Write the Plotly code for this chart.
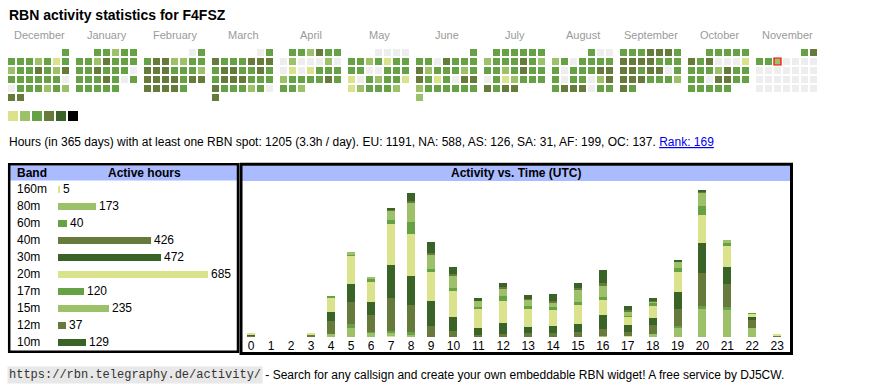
import datetime
import calendar
import plotly.graph_objects as go

W, H = 870, 390
SANS = "Liberation Sans, Arial, sans-serif"
MONO = "Liberation Mono, Courier New, monospace"

# ---------------- data ----------------
title_text = "RBN activity statistics for F4FSZ"
month_names = ["December", "January", "February", "March", "April", "May",
               "June", "July", "August", "September", "October", "November"]
month_ym = [(2024, 12), (2025, 1), (2025, 2), (2025, 3), (2025, 4), (2025, 5),
            (2025, 6), (2025, 7), (2025, 8), (2025, 9), (2025, 10), (2025, 11)]
today = datetime.date(2025, 11, 5)

# daily activity level (0 = none, 1..6 = legend levels)
lv_dec = [3, 3, 3, 3, 2, 3, 1, 3, 2, 3, 3, 4, 3, 2, 4, 3, 3, 3, 3, 3, 3, 0, 0, 3, 3, 3, 2, 3, 2, 4, 4]
lv_jan = [3, 3, 2, 3, 3, 3, 3, 2, 4, 3, 3, 3, 3, 3, 4, 3, 3, 3, 0, 3, 3, 3, 4, 3, 0, 3, 3, 3, 3, 3, 3]
lv_feb = [0, 3, 3, 4, 4, 2, 2, 3, 3, 4, 4, 4, 3, 3, 3, 2, 4, 4, 4, 4, 3, 4, 4, 4, 4, 4, 4, 3]
lv_mar = [0, 3, 4, 3, 3, 3, 4, 4, 4, 3, 4, 4, 3, 3, 4, 3, 3, 4, 4, 4, 3, 3, 3, 4, 3, 3, 3, 2, 3, 0, 4]
lv_apr = [3, 3, 2, 4, 3, 3, 0, 2, 0, 0, 0, 2, 0, 0, 1, 0, 1, 3, 3, 3, 2, 3, 3, 3, 3, 4, 3, 3, 3, 2]
lv_may = [0, 0, 0, 0, 3, 3, 2, 3, 1, 3, 3, 3, 3, 0, 0, 3, 3, 3, 1, 0, 3, 2, 3, 3, 1, 1, 2, 3, 3, 3, 2]
lv_jun = [3, 3, 3, 0, 4, 3, 3, 3, 4, 2, 3, 3, 3, 2, 3, 4, 3, 1, 3, 0, 4, 4, 2, 3, 3, 3, 3, 3, 3, 2]
lv_jul = [3, 3, 3, 3, 3, 3, 2, 3, 3, 3, 4, 3, 2, 3, 3, 2, 3, 4, 3, 3, 0, 3, 1, 2, 3, 3, 3, 4, 3, 4, 4]
lv_aug = [3, 0, 0, 2, 3, 0, 3, 3, 3, 3, 3, 0, 3, 3, 3, 4, 4, 3, 0, 3, 3, 0, 2, 4, 3, 4, 4, 4, 0, 3, 3]
lv_sep = [3, 3, 3, 4, 4, 4, 3, 4, 4, 4, 4, 3, 3, 3, 4, 4, 3, 4, 4, 0, 3, 4, 4, 4, 3, 3, 3, 2, 4, 3]
lv_oct = [3, 3, 3, 3, 3, 4, 3, 4, 0, 0, 0, 1, 3, 3, 3, 2, 4, 3, 3, 3, 3, 0, 4, 4, 3, 3, 3, 3, 3, 3, 3]
lv_nov = [3, 4, 3, 3, 2, 0, 0, 0, 0, 0, 0, 0, 0, 0, 0, 0, 0, 0, 0, 0, 0, 0, 0, 0, 0, 0, 0, 0, 0, 0]
month_levels = [lv_dec, lv_jan, lv_feb, lv_mar, lv_apr, lv_may,
                lv_jun, lv_jul, lv_aug, lv_sep, lv_oct, lv_nov]

level_colors = ["#eeeeee", "#dae28b", "#9dc168", "#66a146", "#667a3b", "#3a6427", "#000000"]

stats_text = ("Hours (in 365 days) with at least one RBN spot: 1205 (3.3h / day). "
              "EU: 1191, NA: 588, AS: 126, SA: 31, AF: 199, OC: 137. ")
rank_text = "Rank: 169"

bands = ["160m", "80m", "60m", "40m", "30m", "20m", "17m", "15m", "12m", "10m"]
band_hours = [5, 173, 40, 426, 472, 685, 120, 235, 37, 129]
band_level = [1, 2, 3, 4, 5, 1, 3, 2, 4, 5]

hour_labels = [str(h) for h in range(24)]
# active hours per band for each UTC hour 0..23
h_160m = [0, 0, 0, 0, 0, 0, 0, 2, 0, 0, 0, 0, 0, 0, 0, 0, 0, 2, 0, 0, 0, 0, 0, 0]
h_80m = [0, 0, 0, 0, 6, 16, 7, 5, 5, 0, 0, 0, 0, 0, 0, 0, 2, 0, 5, 17, 48, 47, 16, 0]
h_60m = [0, 0, 0, 0, 0, 6, 2, 3, 3, 0, 0, 0, 0, 0, 0, 0, 0, 0, 0, 2, 5, 5, 0, 0]
h_40m = [3, 0, 0, 5, 21, 38, 29, 57, 48, 19, 10, 3, 5, 7, 7, 9, 12, 7, 16, 29, 57, 40, 14, 2]
h_30m = [1, 0, 0, 0, 16, 32, 22, 57, 50, 43, 25, 12, 20, 10, 12, 14, 24, 12, 12, 29, 52, 29, 5, 0]
h_20m = [2, 0, 0, 1, 26, 48, 35, 71, 72, 51, 45, 35, 38, 31, 29, 33, 26, 14, 21, 36, 48, 36, 5, 2]
h_17m = [0, 0, 0, 0, 2, 2, 5, 7, 21, 5, 5, 2, 7, 6, 3, 5, 5, 2, 5, 7, 16, 5, 1, 0]
h_15m = [0, 0, 0, 0, 0, 4, 4, 16, 33, 25, 21, 10, 14, 10, 9, 21, 19, 7, 2, 10, 24, 5, 0, 0]
h_12m = [0, 0, 0, 0, 0, 0, 0, 2, 3, 2, 3, 0, 2, 2, 2, 2, 5, 3, 2, 0, 2, 0, 0, 0]
h_10m = [0, 0, 0, 0, 0, 0, 0, 2, 14, 19, 12, 5, 7, 7, 12, 10, 22, 6, 5, 2, 2, 0, 0, 0]
hour_series = [h_160m, h_80m, h_60m, h_40m, h_30m, h_20m, h_17m, h_15m, h_12m, h_10m]

footer_url = "https://rbn.telegraphy.de/activity/"
footer_text = " - Search for any callsign and create your own embeddable RBN widget! A free service by DJ5CW."

# ---------------- layout constants ----------------
CAL_X0, CAL_Y0, CELL_PITCH, MONTH_PITCH, CELL = 8, 49, 9, 68, 7
HEADER_BLUE = "#aabbff"

fig = go.Figure()

# calendar cells
cx, cy, cc, lw, lc = [], [], [], [], []
for m, ((yr, mo), levels) in enumerate(zip(month_ym, month_levels)):
    first_wd = calendar.monthrange(yr, mo)[0]
    for d, lev in enumerate(levels):
        idx = first_wd + d
        col, row = idx % 7, idx // 7
        cx.append(CAL_X0 + MONTH_PITCH * m + CELL / 2 + CELL_PITCH * col)
        cy.append(CAL_Y0 + CELL / 2 + CELL_PITCH * row)
        cc.append(level_colors[lev])
        is_today = datetime.date(yr, mo, d + 1) == today
        lw.append(1.2 if is_today else 0)
        lc.append("#ff0000" if is_today else "rgba(0,0,0,0)")
fig.add_trace(go.Scatter(
    x=cx, y=cy, mode="markers", xaxis="x", yaxis="y", hoverinfo="skip",
    marker=dict(symbol="square", size=CELL, color=cc, line=dict(width=lw, color=lc))))

# legend squares
fig.add_trace(go.Scatter(
    x=[13 + 12 * i for i in range(6)], y=[116] * 6, mode="markers",
    xaxis="x", yaxis="y", hoverinfo="skip",
    marker=dict(symbol="square", size=10, color=level_colors[1:], line=dict(width=0))))

# band bars
fig.add_trace(go.Bar(
    y=bands, x=band_hours, orientation="h", xaxis="x2", yaxis="y2",
    marker=dict(color=[level_colors[l] for l in band_level], line=dict(width=0)),
    width=0.43, text=band_hours, textposition="outside", constraintext="none",
    cliponaxis=False, textfont=dict(family=SANS, size=12, color="#000000"),
    hoverinfo="skip"))

# activity vs time bars (cell widths follow label widths)
widths = [15.1 + 4.9 * len(s) for s in hour_labels]
centers = []
acc = 0.0
for w in widths:
    centers.append(acc + w / 2)
    acc += w
for b, series, lev in zip(bands, hour_series, band_level):
    fig.add_trace(go.Bar(
        x=centers, y=series, width=8, xaxis="x3", yaxis="y3", name=b,
        marker=dict(color=level_colors[lev], line=dict(width=0)), hoverinfo="skip"))

# ---------------- annotations ----------------
ann = []
ann.append(dict(x=7, y=15, xref="x", yref="y", text="<b>" + title_text + "</b>",
                showarrow=False, xanchor="left", yanchor="middle",
                font=dict(family=SANS, size=14, color="#000000")))
for m, name in enumerate(month_names):
    ann.append(dict(x=CAL_X0 + MONTH_PITCH * m + 31, y=35, xref="x", yref="y", text=name,
                    showarrow=False, xanchor="center", yanchor="middle",
                    font=dict(family=SANS, size=11, color="#9a9a9a")))
ann.append(dict(x=7, y=142, xref="x", yref="y",
                text=stats_text + "<span style='color:#0000ee'><u>" + rank_text + "</u></span>",
                showarrow=False, xanchor="left", yanchor="middle",
                font=dict(family=SANS, size=12, color="#000000")))
ann.append(dict(x=15, y=173, xref="x", yref="y", text="<b>Band</b>", showarrow=False,
                xanchor="left", yanchor="middle", font=dict(family=SANS, size=12, color="#000000")))
ann.append(dict(x=144, y=173, xref="x", yref="y", text="<b>Active hours</b>", showarrow=False,
                xanchor="center", yanchor="middle", font=dict(family=SANS, size=12, color="#000000")))
for b in bands:
    ann.append(dict(x=15, y=b, xref="x", yref="y2", text=b, showarrow=False,
                    xanchor="left", yanchor="middle", font=dict(family=SANS, size=12, color="#000000")))
ann.append(dict(x=516, y=173, xref="x", yref="y", text="<b>Activity vs. Time (UTC)</b>",
                showarrow=False, xanchor="center", yanchor="middle",
                font=dict(family=SANS, size=12, color="#000000")))
ann.append(dict(x=7, y=374.5, xref="x", yref="y", text=footer_url, showarrow=False,
                xanchor="left", yanchor="middle", bgcolor="#e8e8e8", borderpad=1,
                font=dict(family=MONO, size=12, color="#333333")))
ann.append(dict(x=260, y=374.5, xref="x", yref="y", text=footer_text, showarrow=False,
                xanchor="left", yanchor="middle",
                font=dict(family=SANS, size=12, color="#000000")))

# ---------------- shapes ----------------
shapes = [
    dict(type="rect", xref="x", yref="y", x0=10, x1=237, y0=165.5, y1=180.5,
         fillcolor=HEADER_BLUE, line=dict(width=0), layer="below"),
    dict(type="rect", xref="x", yref="y", x0=242, x1=790.5, y0=165.5, y1=181,
         fillcolor=HEADER_BLUE, line=dict(width=0), layer="below"),
    dict(type="rect", xref="x", yref="y", x0=9.2, x1=238, y0=164.2, y1=351.8,
         line=dict(width=2.5, color="#000000"), layer="above"),
    dict(type="rect", xref="x", yref="y", x0=241, x1=791.5, y0=164.2, y1=353.5,
         line=dict(width=3, color="#000000"), layer="above"),
]

fig.update_layout(
    width=W, height=H, margin=dict(l=0, r=0, t=0, b=0),
    paper_bgcolor="#ffffff", plot_bgcolor="rgba(0,0,0,0)",
    showlegend=False, barmode="stack", bargap=0,
    annotations=ann, shapes=shapes,
    xaxis=dict(domain=[0, 1], range=[0, W], visible=False, anchor="y", fixedrange=True),
    yaxis=dict(domain=[0, 1], range=[H, 0], visible=False, anchor="x", fixedrange=True),
    xaxis2=dict(domain=[58 / W, 208 / W], range=[0, 685], visible=False, anchor="y2"),
    yaxis2=dict(domain=[1 - 350.5 / H, 1 - 180.5 / H], type="category",
                categoryorder="array", categoryarray=bands, range=[9.5, -0.5],
                visible=False, anchor="x2"),
    xaxis3=dict(domain=[241 / W, 791 / W], range=[0, 550], anchor="y3",
                tickmode="array", tickvals=centers, ticktext=hour_labels, ticks="",
                showgrid=False, zeroline=False, showline=False,
                tickfont=dict(family=SANS, size=12, color="#000000")),
    yaxis3=dict(domain=[1 - 337 / H, 1 - 183 / H], range=[0, 266], visible=False, anchor="x3"),
)

fig.write_html("out.html", config={"displayModeBar": False},
               post_script="document.body.style.margin='0';")
